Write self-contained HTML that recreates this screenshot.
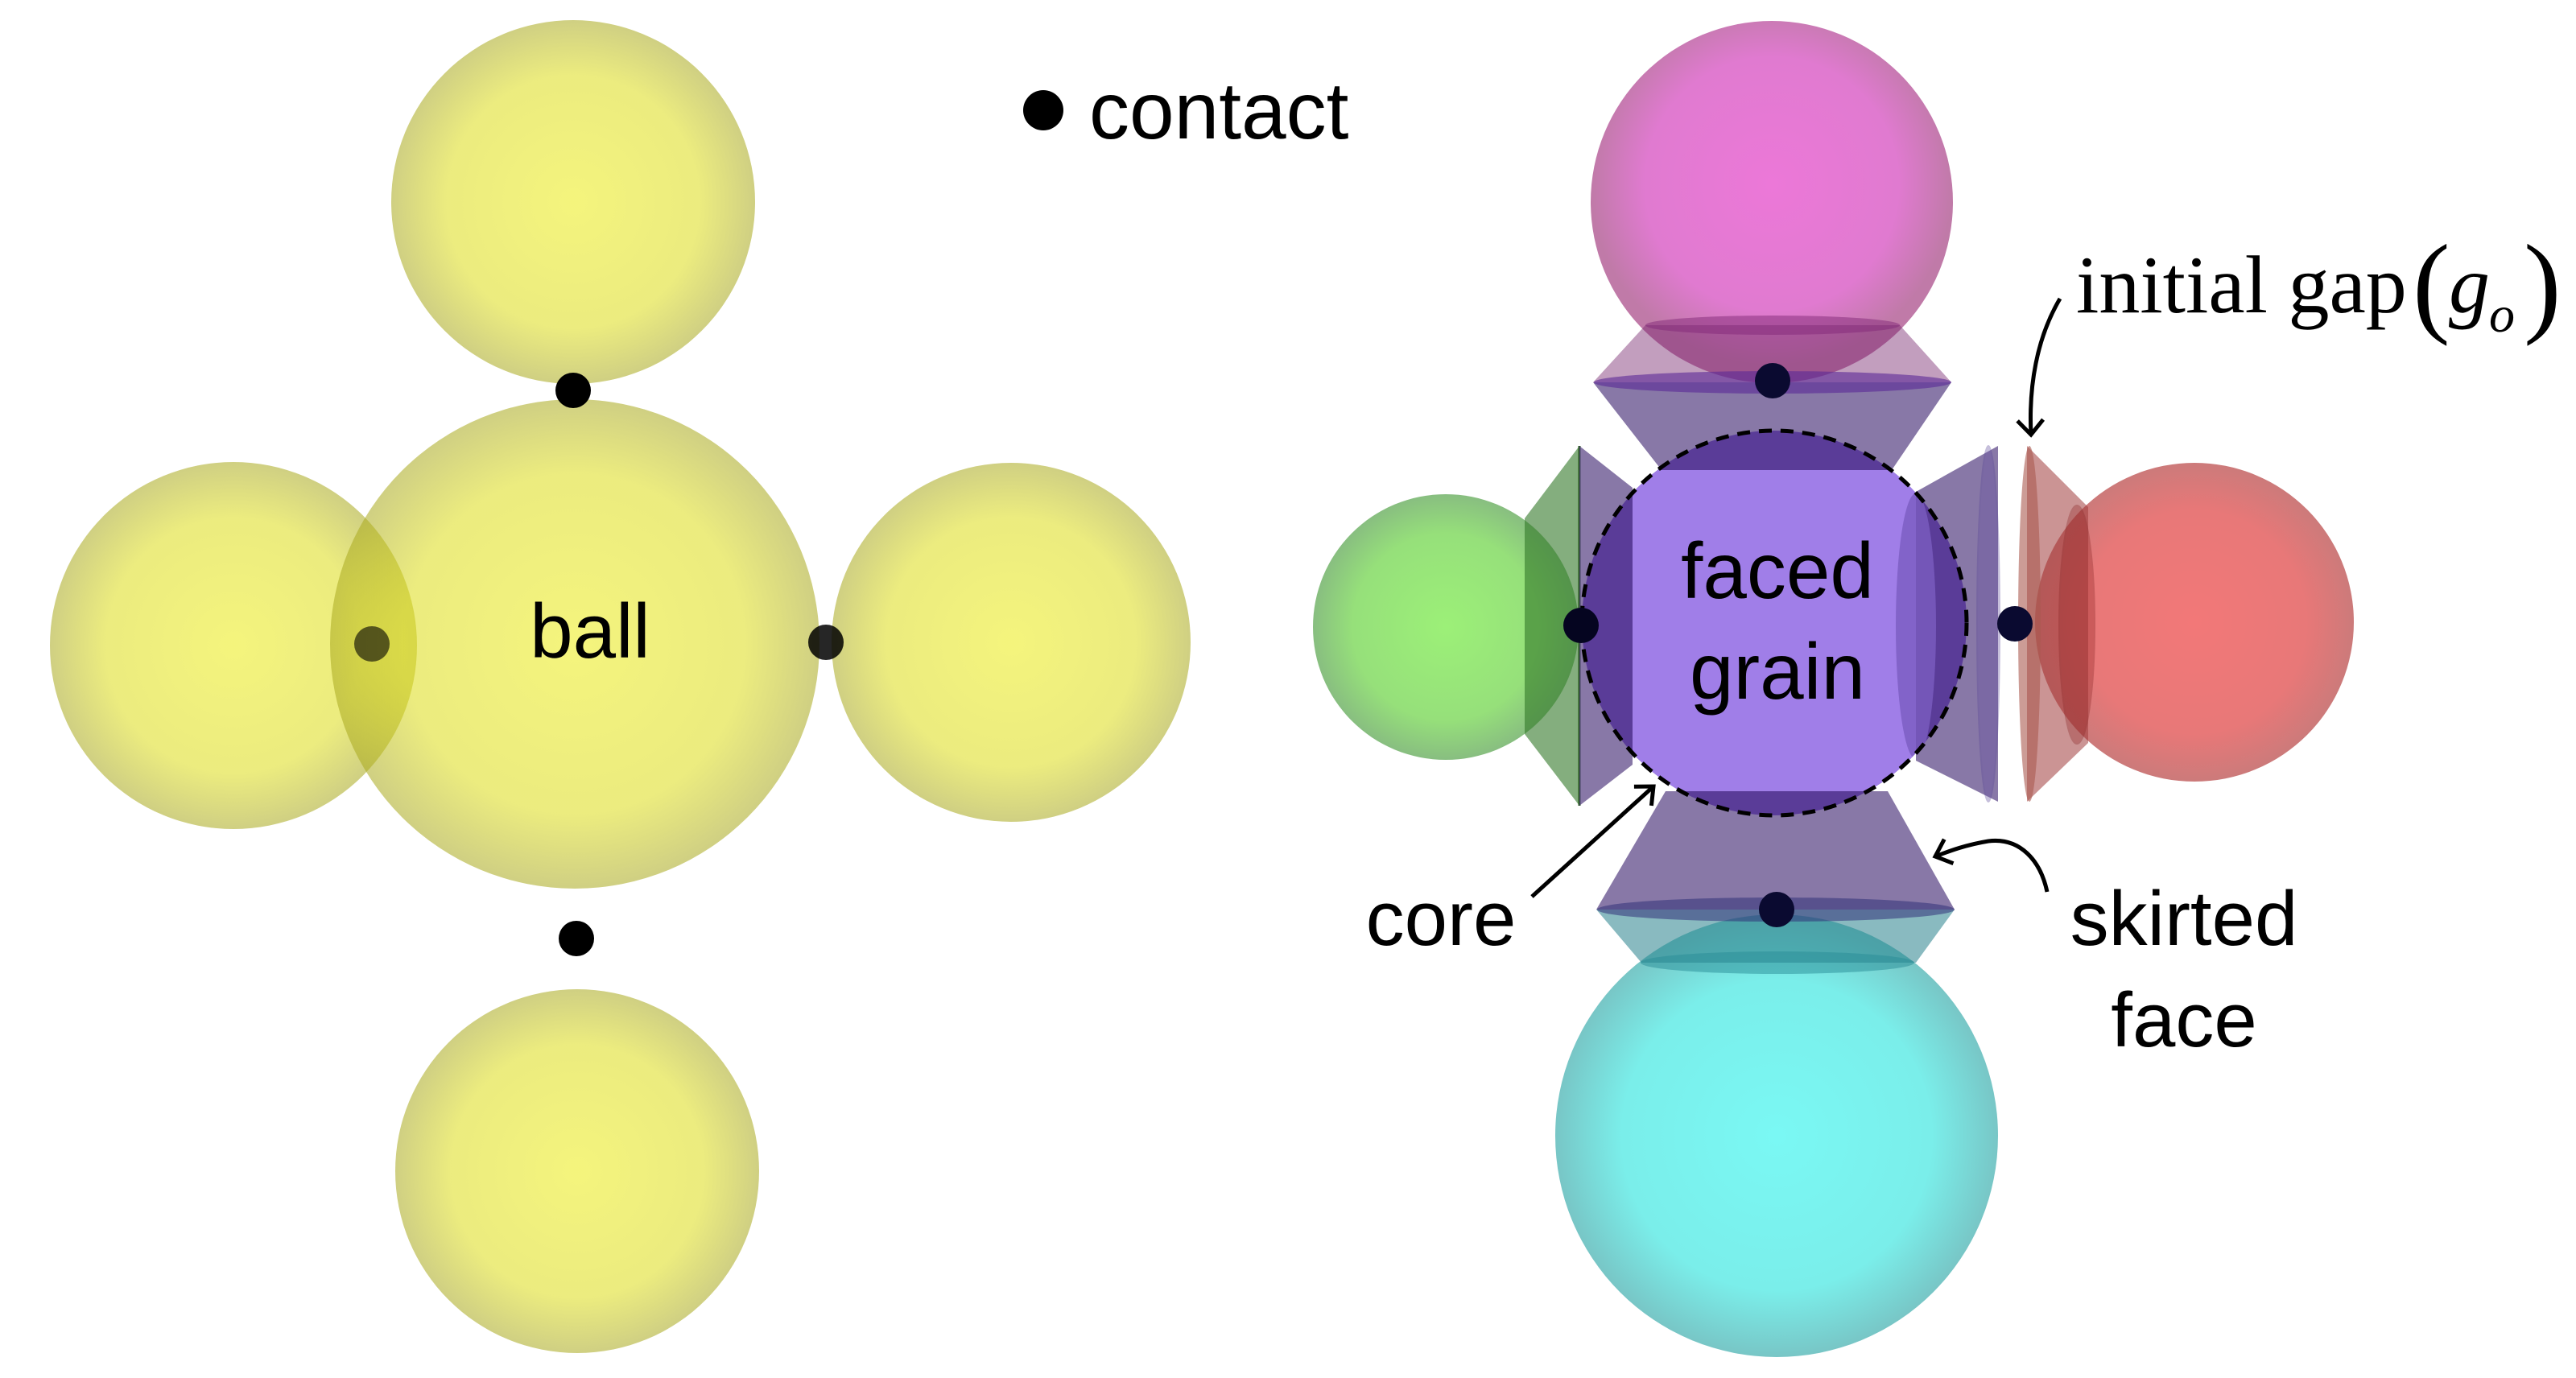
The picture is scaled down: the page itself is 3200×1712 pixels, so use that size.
<!DOCTYPE html>
<html><head><meta charset="utf-8"><style>
html,body{margin:0;padding:0;background:#fff;}
svg{display:block;}
.s{font-family:"Liberation Sans",sans-serif;font-size:96px;fill:#000;}
.t{font-family:"Liberation Serif",serif;fill:#000;}
</style></head><body>
<svg width="3200" height="1712" viewBox="0 0 3200 1712" xmlns="http://www.w3.org/2000/svg">
<defs>
<radialGradient id="gy" cx="0.5" cy="0.5" r="0.5"><stop offset="0" stop-color="rgb(236,236,22)"/><stop offset="0.7" stop-color="rgb(220,220,26)"/><stop offset="1" stop-color="rgb(170,170,32)"/></radialGradient>
<radialGradient id="gm" cx="0.5" cy="0.45" r="0.5"><stop offset="0" stop-color="#ec78d8"/><stop offset="0.7" stop-color="#e07ad0"/><stop offset="1" stop-color="#c07aa8"/></radialGradient>
<radialGradient id="gc" cx="0.5" cy="0.5" r="0.5"><stop offset="0" stop-color="#7af8f4"/><stop offset="0.7" stop-color="#7aeeea"/><stop offset="1" stop-color="#78c6c6"/></radialGradient>
<radialGradient id="gg" cx="0.5" cy="0.5" r="0.5"><stop offset="0" stop-color="#9cf078"/><stop offset="0.7" stop-color="#96e07a"/><stop offset="1" stop-color="#88be80"/></radialGradient>
<radialGradient id="gr" cx="0.5" cy="0.5" r="0.5"><stop offset="0" stop-color="#f27878"/><stop offset="0.7" stop-color="#e87878"/><stop offset="1" stop-color="#cc7a7a"/></radialGradient>
<clipPath id="cc"><circle cx="2204" cy="774" r="239"/></clipPath>
<marker id="ah" markerWidth="40" markerHeight="40" refX="20" refY="20" orient="auto" markerUnits="userSpaceOnUse"><path d="M2,4 L20,20 L2,36" fill="none" stroke="#000" stroke-width="5"/></marker>
</defs>

<!-- LEFT PANEL -->
<g opacity="0.56">
<circle cx="712" cy="251" r="226" fill="url(#gy)"/>
<circle cx="290" cy="802" r="228" fill="url(#gy)"/>
<circle cx="1256" cy="798" r="223" fill="url(#gy)"/>
<circle cx="717" cy="1455" r="226" fill="url(#gy)"/>
</g>
<circle cx="714" cy="800" r="304" fill="url(#gy)" opacity="0.56"/>
<circle cx="712" cy="485" r="22" fill="#000"/>
<circle cx="462" cy="800" r="22" fill="#000" opacity="0.6"/>
<circle cx="1026" cy="798" r="22" fill="#000" opacity="0.85"/>
<circle cx="716" cy="1166" r="22" fill="#000"/>
<text class="s" x="733" y="817" text-anchor="middle">ball</text>
<circle cx="1296" cy="137" r="25" fill="#000"/>
<text class="s" x="1353" y="172" style="font-size:100px">contact</text>

<!-- RIGHT PANEL spheres -->
<circle cx="2201" cy="251" r="225" fill="url(#gm)"/>
<circle cx="2207" cy="1411" r="275" fill="url(#gc)"/>
<circle cx="1796" cy="779" r="165" fill="url(#gg)"/>
<circle cx="2726" cy="773" r="198" fill="url(#gr)"/>

<!-- top skirt -->
<polygon points="2044,404 2360,404 2424,475 1979,475" fill="rgb(120,40,110)" opacity="0.45"/>
<ellipse cx="2202" cy="404" rx="158" ry="12" fill="rgb(130,40,120)" opacity="0.5"/>
<polygon points="1979,475 2424,475 2350,584 2064,584" fill="rgb(85,62,130)" opacity="0.7"/>
<ellipse cx="2202" cy="475" rx="222" ry="14" fill="rgb(90,40,150)" opacity="0.6"/>
<!-- bottom skirt -->
<polygon points="1983,1130 2428,1130 2380,1196 2039,1196" fill="rgb(40,130,140)" opacity="0.55"/>
<ellipse cx="2208" cy="1196" rx="170" ry="14" fill="rgb(40,140,150)" opacity="0.5"/>
<polygon points="2069,983 2345,983 2428,1130 1983,1130" fill="rgb(85,62,130)" opacity="0.7"/>
<ellipse cx="2206" cy="1130" rx="222" ry="15" fill="rgb(50,50,120)" opacity="0.55"/>
<!-- left skirt -->
<polygon points="1962,554 1962,1001 1894,912 1894,644" fill="rgb(50,120,40)" opacity="0.6"/>
<line x1="1962" y1="554" x2="1962" y2="1001" stroke="#2a5a20" stroke-width="3"/>
<polygon points="1962,554 2028,606 2028,950 1962,1001" fill="rgb(85,62,130)" opacity="0.7"/>
<!-- right skirt -->
<polygon points="2380,611 2482,554 2482,996 2380,945" fill="rgb(85,62,130)" opacity="0.7"/>
<ellipse cx="2470" cy="775" rx="14" ry="221" fill="rgb(100,80,160)" opacity="0.35" stroke="rgb(90,70,150)" stroke-width="2"/>
<polygon points="2518,554 2594,630 2594,923 2518,996" fill="rgb(160,60,60)" opacity="0.55"/>
<ellipse cx="2521" cy="775" rx="14" ry="221" fill="rgb(170,90,80)" opacity="0.6"/>
<ellipse cx="2580" cy="776" rx="22" ry="148" fill="rgb(150,40,40)" opacity="0.35" stroke="rgb(140,40,40)" stroke-width="2"/>

<!-- core -->
<circle cx="2204" cy="774" r="239" fill="#5a3c98"/>
<g clip-path="url(#cc)">
<rect x="2028" y="584" width="352" height="399" fill="#a07ee8"/>
<ellipse cx="2380" cy="778" rx="25" ry="165" fill="#7a5cc0" opacity="0.8"/>
</g>
<circle cx="2204" cy="774" r="239" fill="none" stroke="#000" stroke-width="5" stroke-dasharray="16,11"/>

<!-- dots -->
<circle cx="2202" cy="473" r="22" fill="#0a0a30"/>
<circle cx="2207" cy="1130" r="22" fill="#0a0a30"/>
<circle cx="1964" cy="777" r="22" fill="#050520"/>
<circle cx="2503" cy="775" r="22" fill="#0a0a30"/>

<text class="s" x="2208" y="743" text-anchor="middle" style="font-size:98px">faced</text>
<text class="s" x="2208" y="868" text-anchor="middle" style="font-size:98px">grain</text>
<text class="s" x="1790" y="1174" text-anchor="middle">core</text>
<text class="s" x="2713" y="1174" text-anchor="middle">skirted</text>
<text class="s" x="2713" y="1300" text-anchor="middle">face</text>

<text class="t" x="2579" y="388" style="font-size:102px">initial gap</text>
<text class="t" x="2997" y="400" style="font-size:140px">(</text>
<text class="t" x="3042" y="388" style="font-size:102px;font-style:italic">g</text>
<text class="t" x="3092" y="412" style="font-size:64px;font-style:italic">o</text>
<text class="t" x="3135" y="400" style="font-size:140px">)</text>

<!-- arrows -->
<path d="M2559,371 C2530,420 2520,480 2523,540" fill="none" stroke="#000" stroke-width="5" marker-end="url(#ah)"/>
<path d="M1903,1114 L2054,977" fill="none" stroke="#000" stroke-width="5" marker-end="url(#ah)"/>
<path d="M2543,1108 C2535,1070 2510,1040 2470,1045 C2440,1050 2420,1058 2404,1064" fill="none" stroke="#000" stroke-width="5" marker-end="url(#ah)"/>
</svg>
</body></html>
